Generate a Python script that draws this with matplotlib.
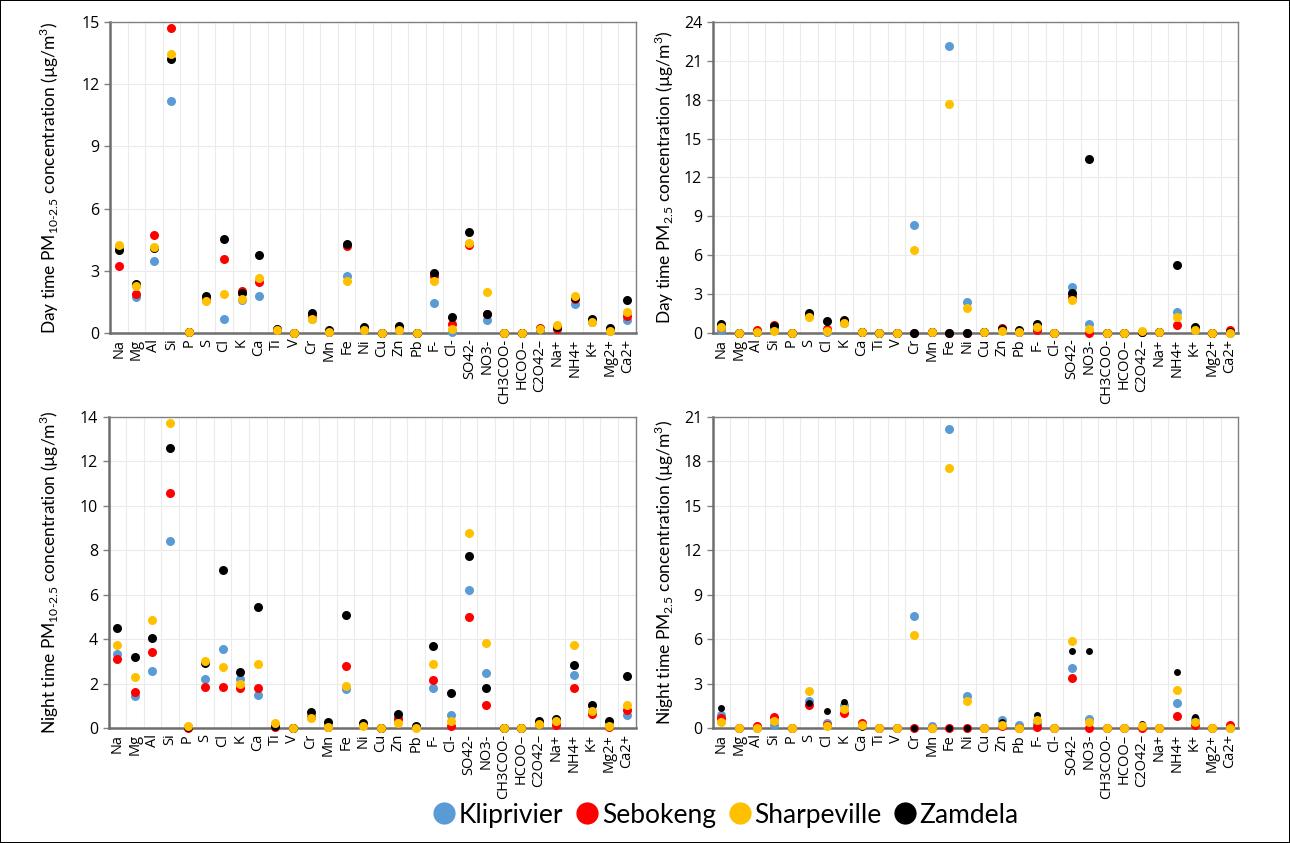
import numpy as np
import matplotlib
matplotlib.use("Agg")
import matplotlib.pyplot as plt
from matplotlib.lines import Line2D

# species on the category axis
species = ["Na", "Mg", "Al", "Si", "P", "S", "Cl", "K", "Ca", "Ti", "V", "Cr", "Mn", "Fe", "Ni",
           "Cu", "Zn", "Pb", "F-", "Cl-", "SO42-", "NO3-", "CH3COO-", "HCOO–", "C2O42–",
           "Na+", "NH4+", "K+", "Mg2+", "Ca2+"]

sites = ["Kliprivier", "Sebokeng", "Sharpeville", "Zamdela"]

# day time PM10-2.5
day_coarse_klip = [4.1, 1.74, 3.46, 11.19, 0.05, 1.6, 0.69, 1.58, 1.77, 0.15, 0.0, 0.69, 0.05, 2.73, 0.2,
                   0.0, 0.2, 0.02, 1.45, 0.05, 4.3, 0.64, 0, 0, 0.2, 0.3, 1.38, 0.55, 0.12, 0.64]
day_coarse_sebo = [3.22, 1.86, 4.71, 14.71, 0.05, 1.65, 3.59, 2.01, 2.46, 0.15, 0.0, 0.85, 0.05, 4.21, 0.2,
                   0.0, 0.25, 0.02, 2.73, 0.42, 4.23, 0.93, 0, 0, 0.24, 0.21, 1.66, 0.6, 0.15, 0.8]
day_coarse_shar = [4.26, 2.25, 4.15, 13.47, 0.05, 1.54, 1.90, 1.66, 2.65, 0.16, 0.0, 0.66, 0.03, 2.51, 0.16,
                   0.0, 0.16, 0.02, 2.51, 0.21, 4.36, 1.98, 0, 0, 0.18, 0.37, 1.78, 0.53, 0.10, 1.01]
day_coarse_zamd = [3.99, 2.38, 4.10, 13.23, 0.05, 1.77, 4.55, 1.93, 3.78, 0.21, 0.0, 0.98, 0.13, 4.31, 0.29,
                   0.0, 0.34, 0.02, 2.89, 0.77, 4.87, 0.90, 0, 0, 0.2, 0.3, 1.7, 0.69, 0.24, 1.61]

# day time PM2.5
day_fine_klip = [0.2, 0, 0.05, 0.2, 0, 1.49, 0.1, 0.8, 0.08, 0.03, 0, 8.32, 0.08, 22.13, 2.36,
                 0.05, 0.2, 0.1, 0.3, 0, 3.52, 0.69, 0, 0, 0.1, 0.05, 1.62, 0.35, 0, 0.02]
day_fine_sebo = [0.5, 0, 0.2, 0.64, 0, 1.3, 0.31, 0.9, 0.08, 0.03, 0, 0, 0.05, 0, 0,
                 0.05, 0.39, 0.1, 0.26, 0, 2.8, 0, 0, 0, 0.1, 0.05, 0.62, 0.3, 0, 0.26]
day_fine_shar = [0.44, 0, 0.05, 0.18, 0, 1.23, 0.13, 0.77, 0.08, 0.03, 0, 6.37, 0.08, 17.71, 1.93,
                 0.05, 0.18, 0.1, 0.44, 0, 2.52, 0.33, 0, 0, 0.13, 0.05, 1.23, 0.26, 0, 0.02]
day_fine_zamd = [0.72, 0, 0.05, 0.51, 0, 1.54, 0.95, 1.03, 0.08, 0.03, 0, 0, 0.05, 0, 0,
                 0.05, 0.3, 0.2, 0.69, 0, 3.05, 13.45, 0, 0, 0.1, 0.05, 5.26, 0.44, 0, 0.05]

# night time PM10-2.5
night_coarse_klip = [3.32, 1.47, 2.59, 8.41, 0.05, 2.20, 3.56, 2.22, 1.50, 0.1, 0, 0.5, 0.05, 1.77, 0.15,
                     0, 0.45, 0.05, 1.83, 0.60, 6.20, 2.47, 0, 0, 0.2, 0.3, 2.40, 0.75, 0.1, 0.60]
night_coarse_sebo = [3.11, 1.65, 3.44, 10.56, 0.03, 1.87, 1.87, 1.80, 1.83, 0.07, 0, 0.5, 0.05, 2.81, 0.15,
                     0, 0.4, 0.05, 2.17, 0.10, 5.02, 1.05, 0, 0, 0.2, 0.15, 1.80, 0.63, 0.07, 0.82]
night_coarse_shar = [3.74, 2.29, 4.87, 13.70, 0.10, 3.02, 2.77, 1.98, 2.87, 0.22, 0, 0.45, 0.07, 1.90, 0.12,
                     0, 0.22, 0.03, 2.90, 0.34, 8.79, 3.83, 0, 0, 0.18, 0.33, 3.74, 0.78, 0.12, 1.05]
night_coarse_zamd = [4.49, 3.22, 4.07, 12.61, 0.05, 2.92, 7.11, 2.52, 5.43, 0.12, 0, 0.72, 0.27, 5.09, 0.22,
                     0, 0.64, 0.12, 3.71, 1.57, 7.76, 1.83, 0, 0, 0.33, 0.42, 2.83, 1.05, 0.34, 2.37]

# night time PM2.5
night_fine_klip = [0.90, 0, 0.05, 0.22, 0, 1.86, 0.34, 1.57, 0.2, 0.03, 0.05, 7.55, 0.16, 20.17, 2.18,
                   0.05, 0.56, 0.22, 0.3, 0, 4.09, 0.61, 0, 0, 0.1, 0.05, 1.68, 0.6, 0, 0.05]
night_fine_sebo = [0.67, 0, 0.18, 0.74, 0, 1.57, 0.2, 1.01, 0.34, 0.03, 0.05, 0, 0.05, 0, 0,
                   0.05, 0.16, 0.05, 0.11, 0, 3.37, 0, 0, 0, 0.05, 0.05, 0.85, 0.22, 0, 0.22]
night_fine_shar = [0.45, 0, 0.05, 0.49, 0, 2.54, 0.16, 1.28, 0.22, 0.03, 0.05, 6.29, 0.05, 17.52, 1.86,
                   0.05, 0.22, 0.05, 0.56, 0, 5.91, 0.40, 0, 0, 0.18, 0.05, 2.58, 0.45, 0, 0.05]
night_fine_zamd = [1.39, 0, 0.05, 0.4, 0, 1.7, 1.17, 1.75, 0.07, 0.03, 0.05, 0, 0.05, 0, 0,
                   0.05, 0.40, 0.1, 0.90, 0, 5.21, 5.23, 0, 0, 0.29, 0.05, 3.82, 0.74, 0, 0.05]

colors = {"Kliprivier": "#5B9BD5", "Sebokeng": "#FF0000", "Sharpeville": "#FFC000", "Zamdela": "#000000"}
# drawing order (Sharpeville ends up on top)
order = ["Kliprivier", "Sebokeng", "Zamdela", "Sharpeville"]

label_font = ["Lato", "DejaVu Sans"]
tick_font = ["Open Sans", "DejaVu Sans"]
plt.rcParams["mathtext.fontset"] = "custom"
plt.rcParams["mathtext.rm"] = "Lato"

panels = [
    # rect, data, ymax, ystep, ylabel, labelx, zamdela marker size
    ([110/1290, 1-333/843, 526/1290, 311/843],
     [day_coarse_klip, day_coarse_sebo, day_coarse_shar, day_coarse_zamd], 15, 3,
     "Day time PM$_{\\mathregular{10‐2.5}}$ concentration (µg/m$^\\mathregular{3}$)", -0.093, 6.5),
    ([712.7/1290, 1-333/843, 525.6/1290, 311/843],
     [day_fine_klip, day_fine_sebo, day_fine_shar, day_fine_zamd], 24, 3,
     "Day time PM$_{\\mathregular{2.5}}$ concentration (µg/m$^\\mathregular{3}$)", -0.07, 6.5),
    ([108.5/1290, 1-728.3/843, 527/1290, 311.6/843],
     [night_coarse_klip, night_coarse_sebo, night_coarse_shar, night_coarse_zamd], 14, 2,
     "Night time PM$_{\\mathregular{10‐2.5}}$ concentration (µg/m$^\\mathregular{3}$)", -0.09, 6.5),
    ([712.7/1290, 1-728.3/843, 525.6/1290, 311.6/843],
     [night_fine_klip, night_fine_sebo, night_fine_shar, night_fine_zamd], 21, 3,
     "Night time PM$_{\\mathregular{2.5}}$ concentration (µg/m$^\\mathregular{3}$)", -0.07, 5.0),
]

fig = plt.figure(figsize=(12.9, 8.43), dpi=100, edgecolor="black", linewidth=1.2)

x = np.arange(len(species))

for rect, data, ymax, ystep, ylabel, labelx, zsize in panels:
    ax = fig.add_axes(rect)
    vals = dict(zip(sites, data))
    for site in order:
        ms = zsize if site == "Zamdela" else 6.5
        ax.plot(x, vals[site], linestyle="none", marker="o", markersize=ms,
                color=colors[site], markeredgewidth=0, zorder=3, clip_on=False)

    ax.set_xlim(-0.5, len(species) - 0.5)
    ax.set_ylim(0, ymax)
    ax.set_yticks(np.arange(0, ymax + 0.1, ystep))
    ax.set_xticks(x)
    ax.set_xticklabels(species, rotation=90, fontsize=10.5, family=tick_font)
    ax.set_xticks(np.arange(-0.5, len(species), 1), minor=True)
    ax.tick_params(axis="x", which="major", length=0, pad=4)
    ax.tick_params(axis="x", which="minor", length=0)
    ax.tick_params(axis="y", length=4, width=1, color="#808080", labelsize=11.5)
    for lab in ax.get_yticklabels():
        lab.set_family(tick_font)

    ax.grid(True, which="minor", axis="x", color="#EBEBEB", linewidth=0.8)
    ax.grid(True, which="major", axis="y", color="#EBEBEB", linewidth=0.8)
    ax.set_axisbelow(True)

    for side in ["top", "right"]:
        ax.spines[side].set_color("#808080")
        ax.spines[side].set_linewidth(1.0)
    for side in ["left", "bottom"]:
        ax.spines[side].set_color("#6E6E6E")
        ax.spines[side].set_linewidth(1.8)

    ax.set_ylabel(ylabel, fontsize=12.5, family=label_font)
    ax.yaxis.set_label_coords(labelx, 0.5)

handles = [Line2D([], [], linestyle="none", marker="o", markersize=16, color=colors[s],
                  markeredgewidth=0) for s in sites]
fig.legend(handles, sites, loc="center", bbox_to_anchor=(0.562, 0.033), ncol=4, frameon=False,
           handletextpad=0.05, columnspacing=0.4, handlelength=1.0,
           prop={"family": label_font, "size": 19})

fig.savefig("out.png", dpi=100)
